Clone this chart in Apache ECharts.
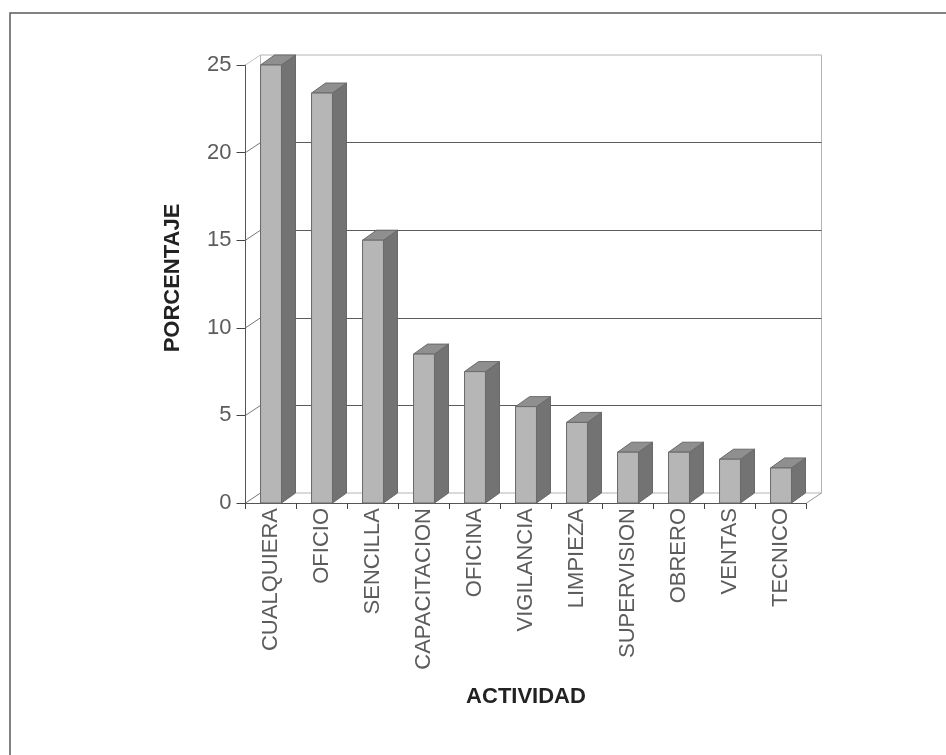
<!DOCTYPE html>
<html>
<head>
<meta charset="utf-8">
<style>html,body{margin:0;padding:0;background:#fff}#c{width:946px;height:755px}</style>
<script src="https://cdn.jsdelivr.net/npm/echarts@6/dist/echarts.min.js"></script>
</head>
<body>
<div id="c"></div>
<script>
const categories = ['CUALQUIERA','OFICIO','SENCILLA','CAPACITACION','OFICINA','VIGILANCIA','LIMPIEZA','SUPERVISION','OBRERO','VENTAS','TECNICO'];
const percentages = [25,23.4,15,8.5,7.5,5.5,4.6,2.9,2.9,2.5,2];
const yTicks = [0,5,10,15,20,25];

const DX = 14, DY = 10, WALL_DX = 15;
const FONT = '"Liberation Sans", Arial, sans-serif';
const chart = echarts.init(document.getElementById('c'), null, {renderer:'canvas'});

function barItem(params, api){
  const i = api.value(0), v = api.value(1);
  const top = api.coord([i, v]), base = api.coord([i, 0]);
  const w = api.size([1,0])[0] * 0.41;
  const x0 = top[0] - w/2, x1 = top[0] + w/2, yt = top[1], yb = base[1];
  const edge = {stroke:'#6a6a6a', lineWidth:1};
  return {type:'group', children:[
    {type:'polygon', shape:{points:[[x1,yt],[x1+DX,yt-DY],[x1+DX,yb-DY],[x1,yb]]}, style:Object.assign({fill:'#737373'},{stroke:'#666',lineWidth:1})},
    {type:'polygon', shape:{points:[[x0,yt],[x0+DX,yt-DY],[x1+DX,yt-DY],[x1,yt]]}, style:Object.assign({fill:'#8f8f8f'},edge)},
    {type:'rect', shape:{x:x0,y:yt,width:w,height:yb-yt}, style:Object.assign({fill:'#b6b6b6'},edge)}
  ]};
}
function wallTick(params, api){
  const p = api.coord([0, api.value(0)]);
  const x = p[0] - api.size([1,0])[0]/2;
  const light = api.value(0) === 25;
  return {type:'line', shape:{x1:x,y1:p[1],x2:x+WALL_DX,y2:p[1]-DY}, style:{stroke:light?'#c4c4c4':'#777',lineWidth:1}};
}
function floorEdge(params, api){
  const p = api.coord([api.value(0), 0]);
  const x = p[0] + api.size([1,0])[0]/2;
  return {type:'line', shape:{x1:x,y1:p[1],x2:x+WALL_DX,y2:p[1]-DY}, style:{stroke:'#999',lineWidth:1}};
}

chart.setOption({
  animation:false,
  backgroundColor:'#fff',
  graphic:[{type:'polyline', silent:true, shape:{points:[[10,755],[10,13],[946,13]]}, style:{stroke:'#5a5a5a',lineWidth:1.5,fill:null}}],
  grid:[
    {left:245.5,width:561,top:65,height:438,containLabel:false},
    {left:260.5,width:561,top:55,height:438,show:true,borderColor:'#b4b4b4',borderWidth:1,backgroundColor:'transparent'}
  ],
  xAxis:[
    {type:'category',gridIndex:0,data:categories,
     axisLine:{show:true,lineStyle:{color:'#555',width:1}},
     axisTick:{show:true,length:6,alignWithLabel:false,lineStyle:{color:'#444'}},
     axisLabel:{interval:0,rotate:90,margin:5,fontFamily:FONT,fontSize:22,color:'#5c5c5c'},
     name:'ACTIVIDAD',nameLocation:'middle',nameGap:183,
     nameTextStyle:{fontFamily:FONT,fontSize:22,fontWeight:'bold',color:'#222'}},
    {type:'category',gridIndex:1,data:categories,axisLine:{show:false},axisTick:{show:false},axisLabel:{show:false}}
  ],
  yAxis:[
    {type:'value',gridIndex:0,min:0,max:25,interval:5,
     axisLine:{show:true,lineStyle:{color:'#555',width:1}},
     axisTick:{show:true,length:9,lineStyle:{color:'#444'}},
     axisLabel:{margin:14,fontFamily:FONT,fontSize:22,color:'#5c5c5c'},
     splitLine:{show:false},
     name:'PORCENTAJE',nameLocation:'middle',nameRotate:90,nameGap:62,
     nameTextStyle:{fontFamily:FONT,fontSize:22,fontWeight:'bold',color:'#222',padding:[0,0,0,12]}},
    {type:'value',gridIndex:1,min:0,max:25,interval:5,
     axisLine:{show:false},axisTick:{show:false},axisLabel:{show:false},
     splitLine:{show:true,showMinLine:false,showMaxLine:false,lineStyle:{color:'#5c5c5c',width:1.2}}}
  ],
  series:[
    {type:'custom',name:'wall',xAxisIndex:0,yAxisIndex:0,coordinateSystem:'cartesian2d',silent:true,z:1,
     data:yTicks.map(v=>[v]),encode:{y:0},renderItem:wallTick},
    {type:'custom',name:'floor',xAxisIndex:0,yAxisIndex:0,coordinateSystem:'cartesian2d',silent:true,z:1,
     data:[[categories.length-1]],encode:{x:0},renderItem:floorEdge},
    {type:'custom',name:'PORCENTAJE',xAxisIndex:0,yAxisIndex:0,coordinateSystem:'cartesian2d',z:3,
     data:percentages.map((v,i)=>[i,v]),encode:{x:0,y:1},renderItem:barItem}
  ]
});
</script>
</body>
</html>
